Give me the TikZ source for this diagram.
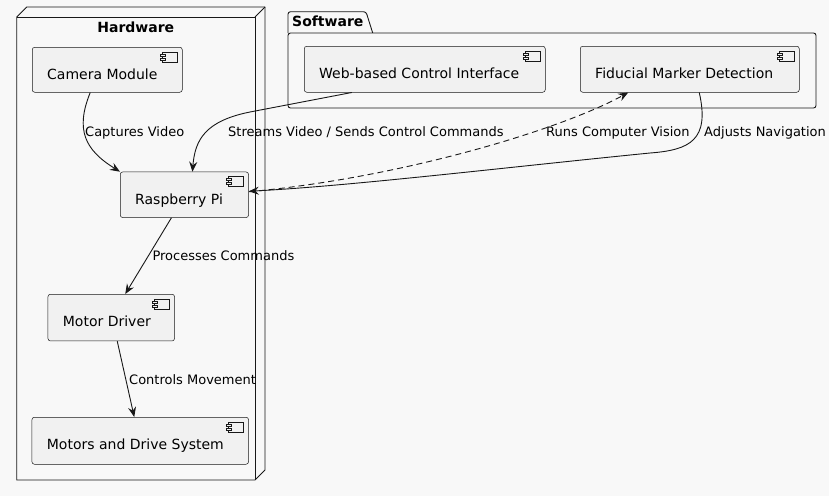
\documentclass[tikz,border=0pt]{standalone}
\usepackage{fontspec}
\setmainfont{DejaVu Sans}
\usetikzlibrary{arrows.meta,calc}
\definecolor{bgc}{HTML}{F8F8F8}
\definecolor{compfill}{HTML}{F1F1F1}
\definecolor{ln}{HTML}{181818}
\begin{document}
\begin{tikzpicture}[x=1pt,y=-1pt,
  comp/.style={draw=ln, line width=0.5pt, fill=compfill, rounded corners=2.5pt,
    anchor=north west, inner sep=0pt,
    path picture={
      \draw[ln, line width=0.5pt, sharp corners, fill=compfill]
        ($(path picture bounding box.north east)+(-20,4.5)$) rectangle ++(15,10);
      \draw[ln, line width=0.5pt, sharp corners, fill=compfill]
        ($(path picture bounding box.north east)+(-22.5,6.5)$) rectangle ++(5,2);
      \draw[ln, line width=0.5pt, sharp corners, fill=compfill]
        ($(path picture bounding box.north east)+(-22.5,10.5)$) rectangle ++(5,2);
    }},
  ctext/.style={anchor=base west, inner sep=0pt, font=\fontsize{14}{16}\selectfont, text=black},
  elabel/.style={anchor=base west, inner sep=0pt, font=\fontsize{13}{15}\selectfont, text=black},
  title/.style={inner sep=0pt, font=\bfseries\fontsize{14}{16}\selectfont, text=black},
  arr/.style={draw=ln, line width=0.9pt, -{Stealth[length=10pt,width=8pt,inset=3.5pt]}},
  dasharr/.style={arr, dash pattern=on 6pt off 4pt}
]
\fill[bgc] (0,0) rectangle (829,496);
\useasboundingbox (0,0) rectangle (829,496);

% Hardware node (3D box)
\draw[ln, line width=0.9pt, fill=bgc, line join=round]
  (16.7,17) -- (26.7,7) -- (265,7) -- (265,470) -- (255,480) -- (16.7,480) -- cycle;
\draw[ln, line width=0.9pt] (16.7,17) -- (255,17) -- (255,480);
\draw[ln, line width=0.9pt] (255,17) -- (265,7);
\node[title, anchor=base] (hwt) at (135.8,32) {Hardware};

% Software package
\draw[ln, line width=0.9pt, fill=bgc, rounded corners=2.5pt]
  (288,33) -- (288,11.7) -- (366,11.7) -- (372.7,33);
\draw[ln, line width=0.9pt, fill=bgc, rounded corners=2.5pt]
  (288,33) rectangle (816,108);
\node[title, anchor=base west] (swt) at (292,26) {Software};

% Components
\node[comp, minimum width=150pt, minimum height=45pt] (cam) at (32,47) {};
\node[ctext] (camt) at ($(cam.north west)+(15,32.5)$) {Camera Module};

\node[comp, minimum width=128.3pt, minimum height=45.6pt] (rpi) at (120,171.7) {};
\node[ctext] (rpit) at ($(rpi.north west)+(15,32.5)$) {Raspberry Pi};

\node[comp, minimum width=126.6pt, minimum height=46.7pt] (mdr) at (47.7,294) {};
\node[ctext] (mdrt) at ($(mdr.north west)+(15,32.5)$) {Motor Driver};

\node[comp, minimum width=216.6pt, minimum height=47pt] (mds) at (31.7,417) {};
\node[ctext] (mdst) at ($(mds.north west)+(15,32.5)$) {Motors and Drive System};

\node[comp, minimum width=241pt, minimum height=46pt] (web) at (304,46) {};
\node[ctext] (webt) at ($(web.north west)+(15,32.5)$) {Web-based Control Interface};

\node[comp, minimum width=219pt, minimum height=46pt] (fid) at (580,46) {};
\node[ctext] (fidt) at ($(fid.north west)+(15,32.5)$) {Fiducial Marker Detection};

% Connectors
\draw[arr] ([xshift=-17pt]cam.south) .. controls (75,130) and (85,150) .. (rpi.north west);
\draw[arr] ([xshift=-73pt]web.south) -- (250,112) .. controls (205,121) and (195,140) .. ([xshift=8pt]rpi.north);
\draw[dasharr] ([yshift=3pt]rpi.east) .. controls (400,178) and (560,130) .. ([xshift=-61.5pt]fid.south);
\draw[arr] ([xshift=9.5pt]fid.south) .. controls (710,140) and (690,150) .. (650,153)
  .. controls (500,168) and (350,186) .. ([yshift=3.5pt]rpi.east);
\draw[arr] ([xshift=-13pt]rpi.south) -- ([xshift=14pt]mdr.north);
\draw[arr] ([xshift=6pt]mdr.south) -- ([xshift=-6pt]mds.north);

% Labels
\node[elabel] (l1) at (85,136.5) {Captures Video};
\node[elabel] (l2) at (228,136.5) {Streams Video / Sends Control Commands};
\node[elabel] (l3) at (546,136.5) {Runs Computer Vision};
\node[elabel] (l4) at (704,136.5) {Adjusts Navigation};
\node[elabel] (l5) at (152.3,260.5) {Processes Commands};
\node[elabel] (l6) at (129,384) {Controls Movement};
\end{tikzpicture}
\end{document}
